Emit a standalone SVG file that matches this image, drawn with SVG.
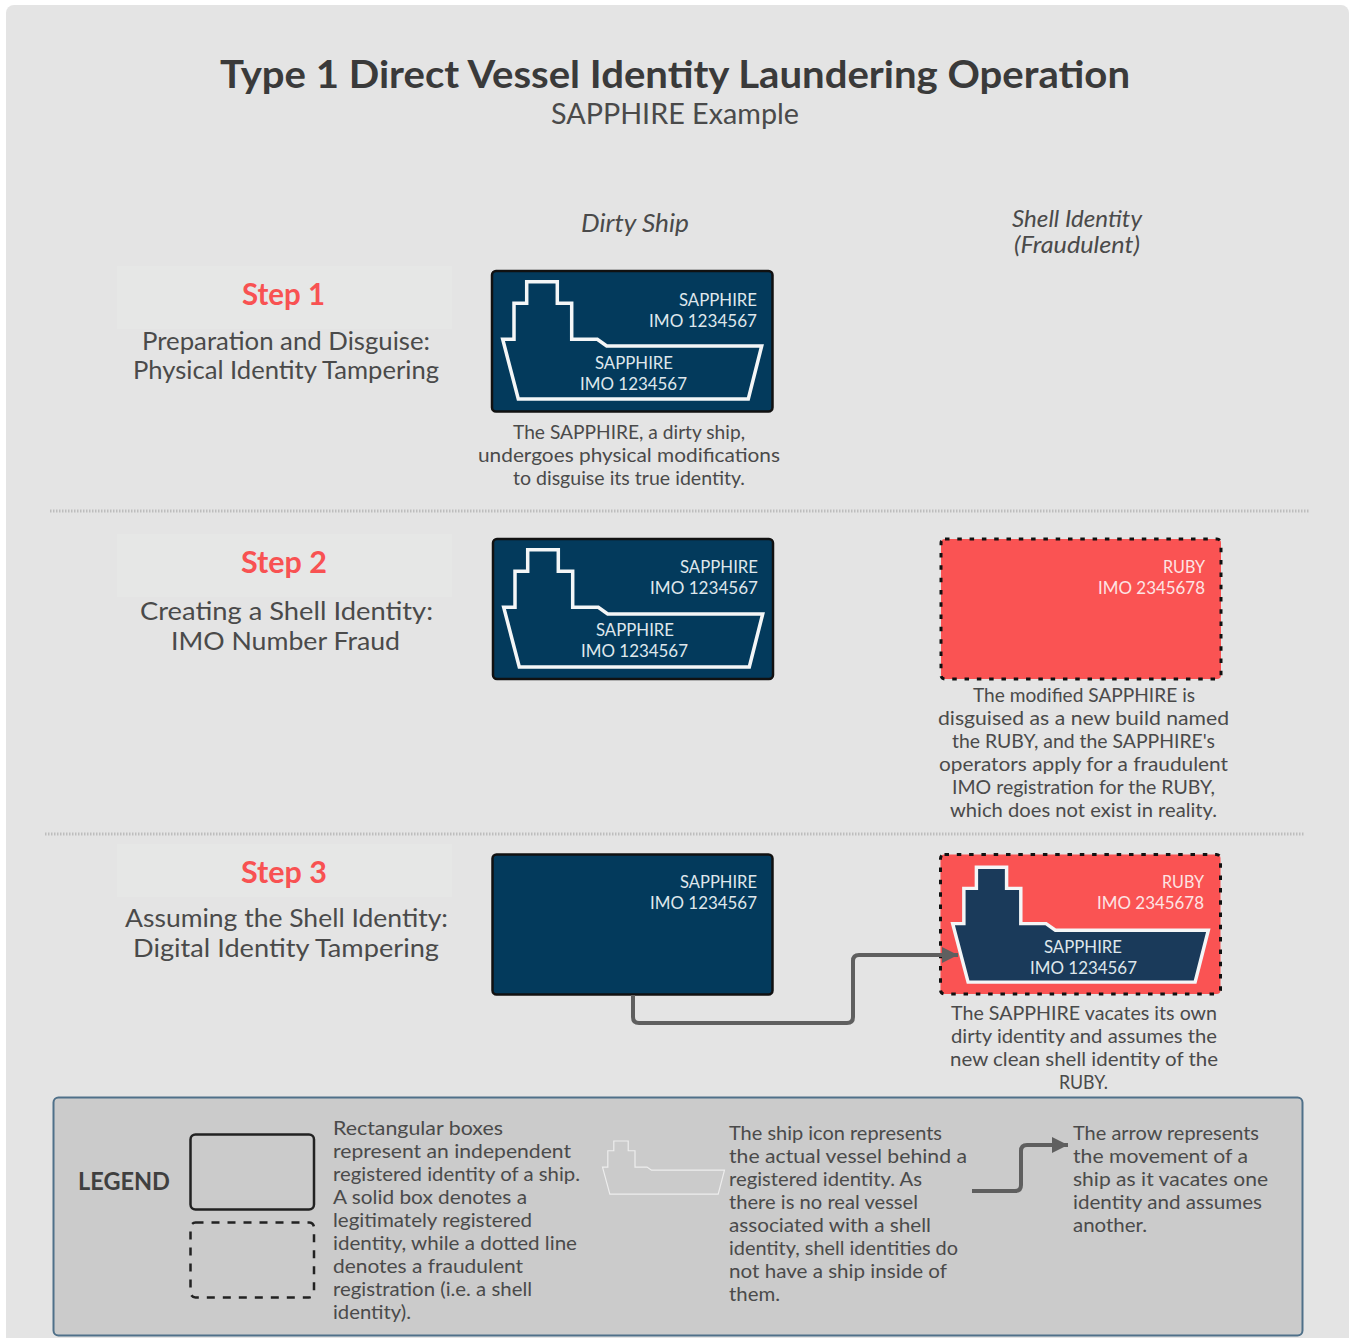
<svg xmlns="http://www.w3.org/2000/svg" xmlns:xlink="http://www.w3.org/1999/xlink" width="1351" height="1338" viewBox="0 0 1351 1338">
<style>
text{font-family:"Lato","Open Sans","Liberation Sans",sans-serif;fill:#4a4a4a;font-size:20px}
.title{font-size:38px;font-weight:700;fill:#3a3a3a}
.sub{font-size:28px}
.col{font-size:26px;font-style:italic}
.col2{font-size:23px;font-style:italic}
.step{font-size:30px;font-weight:700;fill:#f85252}
.desc{font-size:25px}
.id{font-size:18px;fill:#dfe7ec}
.rid{font-size:18px;fill:#fde4e4}
.legt{font-size:25px;font-weight:700;fill:#3f3f3f}
.navy{fill:#033a5c;stroke:#111;stroke-width:2.5}
.red{fill:#fa5353;stroke:#111;stroke-width:3;stroke-dasharray:4.500 7.800}
.band{fill:#e6e7e6}
.div{stroke:#bdbdbd;stroke-width:3;stroke-dasharray:1.500 1.500;fill:none}
.conn{fill:none;stroke:#5f5f5f;stroke-width:4;stroke-linejoin:round}
</style>
<defs>
<path id="ship" d="M526.7 281.7H557.3V303.3H571.7V339.3H597.3L606.7 346H761.7L748.3 399H518.3L502.7 339.3H514V303.3H526.7Z"/>
<marker id="ah" markerUnits="userSpaceOnUse" markerWidth="18" markerHeight="16" refX="16" refY="8" orient="auto"><path d="M0 0L16 8L0 16Z" fill="#5f5f5f"/></marker>
</defs>
<rect x="0" y="0" width="1351" height="1338" fill="#fff"/>
<rect id="panel" x="6" y="5" width="1343" height="1340" rx="8" fill="#e4e4e4"/>
<g id="header">
<text class="title" x="220" y="88" textLength="910" lengthAdjust="spacingAndGlyphs">Type 1 Direct Vessel Identity Laundering Operation</text>
<text class="sub" x="551" y="124" textLength="248" lengthAdjust="spacingAndGlyphs">SAPPHIRE Example</text>
<text class="col" x="581" y="232" textLength="108" lengthAdjust="spacingAndGlyphs">Dirty Ship</text>
<text class="col2" x="1012" y="227" textLength="130" lengthAdjust="spacingAndGlyphs">Shell Identity</text>
<text class="col2" x="1014" y="253" textLength="126" lengthAdjust="spacingAndGlyphs">(Fraudulent)</text>
</g>
<g id="dividers">
<line class="div" x1="50" y1="511" x2="1310" y2="511"/>
<line class="div" x1="45" y1="834" x2="1304" y2="834"/>
</g>
<g id="step1">
<rect class="band" x="117" y="266" width="335" height="63"/>
<text class="step" x="242" y="305" textLength="83" lengthAdjust="spacingAndGlyphs">Step 1</text>
<text class="desc" x="142" y="350" textLength="288" lengthAdjust="spacingAndGlyphs">Preparation and Disguise:</text>
<text class="desc" x="133" y="379" textLength="306" lengthAdjust="spacingAndGlyphs">Physical Identity Tampering</text>
</g>
<g id="step2">
<rect class="band" x="117" y="534" width="335" height="63"/>
<text class="step" x="241" y="573" textLength="86" lengthAdjust="spacingAndGlyphs">Step 2</text>
<text class="desc" x="140" y="620" textLength="293" lengthAdjust="spacingAndGlyphs">Creating a Shell Identity:</text>
<text class="desc" x="171" y="650" textLength="229" lengthAdjust="spacingAndGlyphs">IMO Number Fraud</text>
</g>
<g id="step3">
<rect class="band" x="117" y="844" width="335" height="53"/>
<text class="step" x="241" y="883" textLength="86" lengthAdjust="spacingAndGlyphs">Step 3</text>
<text class="desc" x="125" y="927" textLength="323" lengthAdjust="spacingAndGlyphs">Assuming the Shell Identity:</text>
<text class="desc" x="133" y="957" textLength="306" lengthAdjust="spacingAndGlyphs">Digital Identity Tampering</text>
</g>
<g id="dirty1">
<rect class="navy" x="492" y="271" width="280.500" height="140.500" rx="4"/>
<use xlink:href="#ship" href="#ship" fill="none" stroke="#f4f6f7" stroke-width="3.500"/>
<text class="id" x="679" y="306" textLength="78" lengthAdjust="spacingAndGlyphs">SAPPHIRE</text>
<text class="id" x="649" y="327" textLength="108" lengthAdjust="spacingAndGlyphs">IMO 1234567</text>
<text class="id" x="595" y="369" textLength="78" lengthAdjust="spacingAndGlyphs">SAPPHIRE</text>
<text class="id" x="580" y="390" textLength="107" lengthAdjust="spacingAndGlyphs">IMO 1234567</text>
<g id="cap1">
<text x="513" y="439" textLength="232" lengthAdjust="spacingAndGlyphs">The SAPPHIRE, a dirty ship,</text>
<text x="478" y="462" textLength="302" lengthAdjust="spacingAndGlyphs">undergoes physical modifications</text>
<text x="513" y="485" textLength="232" lengthAdjust="spacingAndGlyphs">to disguise its true identity.</text>
</g>
</g>
<g id="dirty2">
<rect class="navy" x="493" y="539" width="280" height="140" rx="4"/>
<use xlink:href="#ship" href="#ship" transform="translate(1 268)" fill="none" stroke="#f4f6f7" stroke-width="3.500"/>
<text class="id" x="680" y="573" textLength="78" lengthAdjust="spacingAndGlyphs">SAPPHIRE</text>
<text class="id" x="650" y="594" textLength="108" lengthAdjust="spacingAndGlyphs">IMO 1234567</text>
<text class="id" x="596" y="636" textLength="78" lengthAdjust="spacingAndGlyphs">SAPPHIRE</text>
<text class="id" x="581" y="657" textLength="107" lengthAdjust="spacingAndGlyphs">IMO 1234567</text>
</g>
<g id="shell2">
<rect class="red" x="941" y="539" width="280" height="140" rx="4"/>
<text class="rid" x="1163" y="573" textLength="42" lengthAdjust="spacingAndGlyphs">RUBY</text>
<text class="rid" x="1098" y="594" textLength="107" lengthAdjust="spacingAndGlyphs">IMO 2345678</text>
<g id="cap2">
<text x="973" y="702" textLength="222" lengthAdjust="spacingAndGlyphs">The modified SAPPHIRE is</text>
<text x="938" y="725" textLength="291" lengthAdjust="spacingAndGlyphs">disguised as a new build named</text>
<text x="952" y="748" textLength="263" lengthAdjust="spacingAndGlyphs">the RUBY, and the SAPPHIRE's</text>
<text x="939" y="771" textLength="289" lengthAdjust="spacingAndGlyphs">operators apply for a fraudulent</text>
<text x="952" y="794" textLength="263" lengthAdjust="spacingAndGlyphs">IMO registration for the RUBY,</text>
<text x="950" y="817" textLength="267" lengthAdjust="spacingAndGlyphs">which does not exist in reality.</text>
</g>
</g>
<g id="dirty3">
<rect class="navy" x="492.500" y="854.500" width="280" height="140" rx="4"/>
<text class="id" x="680" y="888" textLength="77" lengthAdjust="spacingAndGlyphs">SAPPHIRE</text>
<text class="id" x="650" y="909" textLength="107" lengthAdjust="spacingAndGlyphs">IMO 1234567</text>
</g>
<g id="shell3">
<rect class="red" x="940.500" y="854.500" width="280" height="139.500" rx="4"/>
<use xlink:href="#ship" href="#ship" transform="translate(952.700 867.200) scale(.987 .98) translate(-502.700 -281.700)" fill="#1a3a5a" stroke="#f4f6f7" stroke-width="3.500"/>
<text class="rid" x="1162" y="888" textLength="42" lengthAdjust="spacingAndGlyphs">RUBY</text>
<text class="rid" x="1097" y="909" textLength="107" lengthAdjust="spacingAndGlyphs">IMO 2345678</text>
<text class="id" x="1044" y="953" textLength="78" lengthAdjust="spacingAndGlyphs">SAPPHIRE</text>
<text class="id" x="1030" y="974" textLength="107" lengthAdjust="spacingAndGlyphs">IMO 1234567</text>
<g id="cap3">
<text x="951" y="1020" textLength="266" lengthAdjust="spacingAndGlyphs">The SAPPHIRE vacates its own</text>
<text x="951" y="1043" textLength="266" lengthAdjust="spacingAndGlyphs">dirty identity and assumes the</text>
<text x="950" y="1066" textLength="268" lengthAdjust="spacingAndGlyphs">new clean shell identity of the</text>
<text x="1059" y="1089" textLength="49" lengthAdjust="spacingAndGlyphs">RUBY.</text>
</g>
</g>
<g id="legend">
<rect x="53.500" y="1097.500" width="1249" height="238" rx="5" fill="#cbcbcb" stroke="#4f7089" stroke-width="2"/>
<text class="legt" x="78" y="1190" textLength="92" lengthAdjust="spacingAndGlyphs">LEGEND</text>
<rect x="190.500" y="1134.500" width="123.500" height="75" rx="5" fill="none" stroke="#222" stroke-width="2.500"/>
<rect x="190.500" y="1222.500" width="123.500" height="75" rx="5" fill="none" stroke="#222" stroke-width="2.500" stroke-dasharray="8 8"/>
<use xlink:href="#ship" href="#ship" transform="translate(602.500 1141) scale(.471 .453) translate(-502.700 -281.700)" fill="none" stroke="#eee" stroke-width="2.500"/>
<text x="333" y="1135" textLength="170" lengthAdjust="spacingAndGlyphs">Rectangular boxes</text>
<text x="333" y="1158" textLength="238" lengthAdjust="spacingAndGlyphs">represent an independent</text>
<text x="333" y="1181" textLength="247" lengthAdjust="spacingAndGlyphs">registered identity of a ship.</text>
<text x="333" y="1204" textLength="194" lengthAdjust="spacingAndGlyphs">A solid box denotes a</text>
<text x="333" y="1227" textLength="199" lengthAdjust="spacingAndGlyphs">legitimately registered</text>
<text x="333" y="1250" textLength="244" lengthAdjust="spacingAndGlyphs">identity, while a dotted line</text>
<text x="333" y="1273" textLength="190" lengthAdjust="spacingAndGlyphs">denotes a fraudulent</text>
<text x="333" y="1296" textLength="199" lengthAdjust="spacingAndGlyphs">registration (i.e. a shell</text>
<text x="333" y="1319" textLength="78" lengthAdjust="spacingAndGlyphs">identity).</text>
<text x="729" y="1140" textLength="213" lengthAdjust="spacingAndGlyphs">The ship icon represents</text>
<text x="729" y="1163" textLength="238" lengthAdjust="spacingAndGlyphs">the actual vessel behind a</text>
<text x="729" y="1186" textLength="193" lengthAdjust="spacingAndGlyphs">registered identity. As</text>
<text x="729" y="1209" textLength="189" lengthAdjust="spacingAndGlyphs">there is no real vessel</text>
<text x="729" y="1232" textLength="202" lengthAdjust="spacingAndGlyphs">associated with a shell</text>
<text x="729" y="1255" textLength="229" lengthAdjust="spacingAndGlyphs">identity, shell identities do</text>
<text x="729" y="1278" textLength="218" lengthAdjust="spacingAndGlyphs">not have a ship inside of</text>
<text x="729" y="1301" textLength="51" lengthAdjust="spacingAndGlyphs">them.</text>
<text x="1073" y="1140" textLength="186" lengthAdjust="spacingAndGlyphs">The arrow represents</text>
<text x="1073" y="1163" textLength="175" lengthAdjust="spacingAndGlyphs">the movement of a</text>
<text x="1073" y="1186" textLength="195" lengthAdjust="spacingAndGlyphs">ship as it vacates one</text>
<text x="1073" y="1209" textLength="189" lengthAdjust="spacingAndGlyphs">identity and assumes</text>
<text x="1073" y="1232" textLength="74" lengthAdjust="spacingAndGlyphs">another.</text>
</g>
<g id="connectors">
<path class="conn" d="M633 995V1017Q633 1023 639 1023H847Q853 1023 853 1017V961Q853 955 859 955H958" marker-end="url(#ah)"/>
<path class="conn" d="M972 1191H1015Q1021 1191 1021 1185V1151Q1021 1145 1027 1145H1068" marker-end="url(#ah)"/>
</g>
</svg>
